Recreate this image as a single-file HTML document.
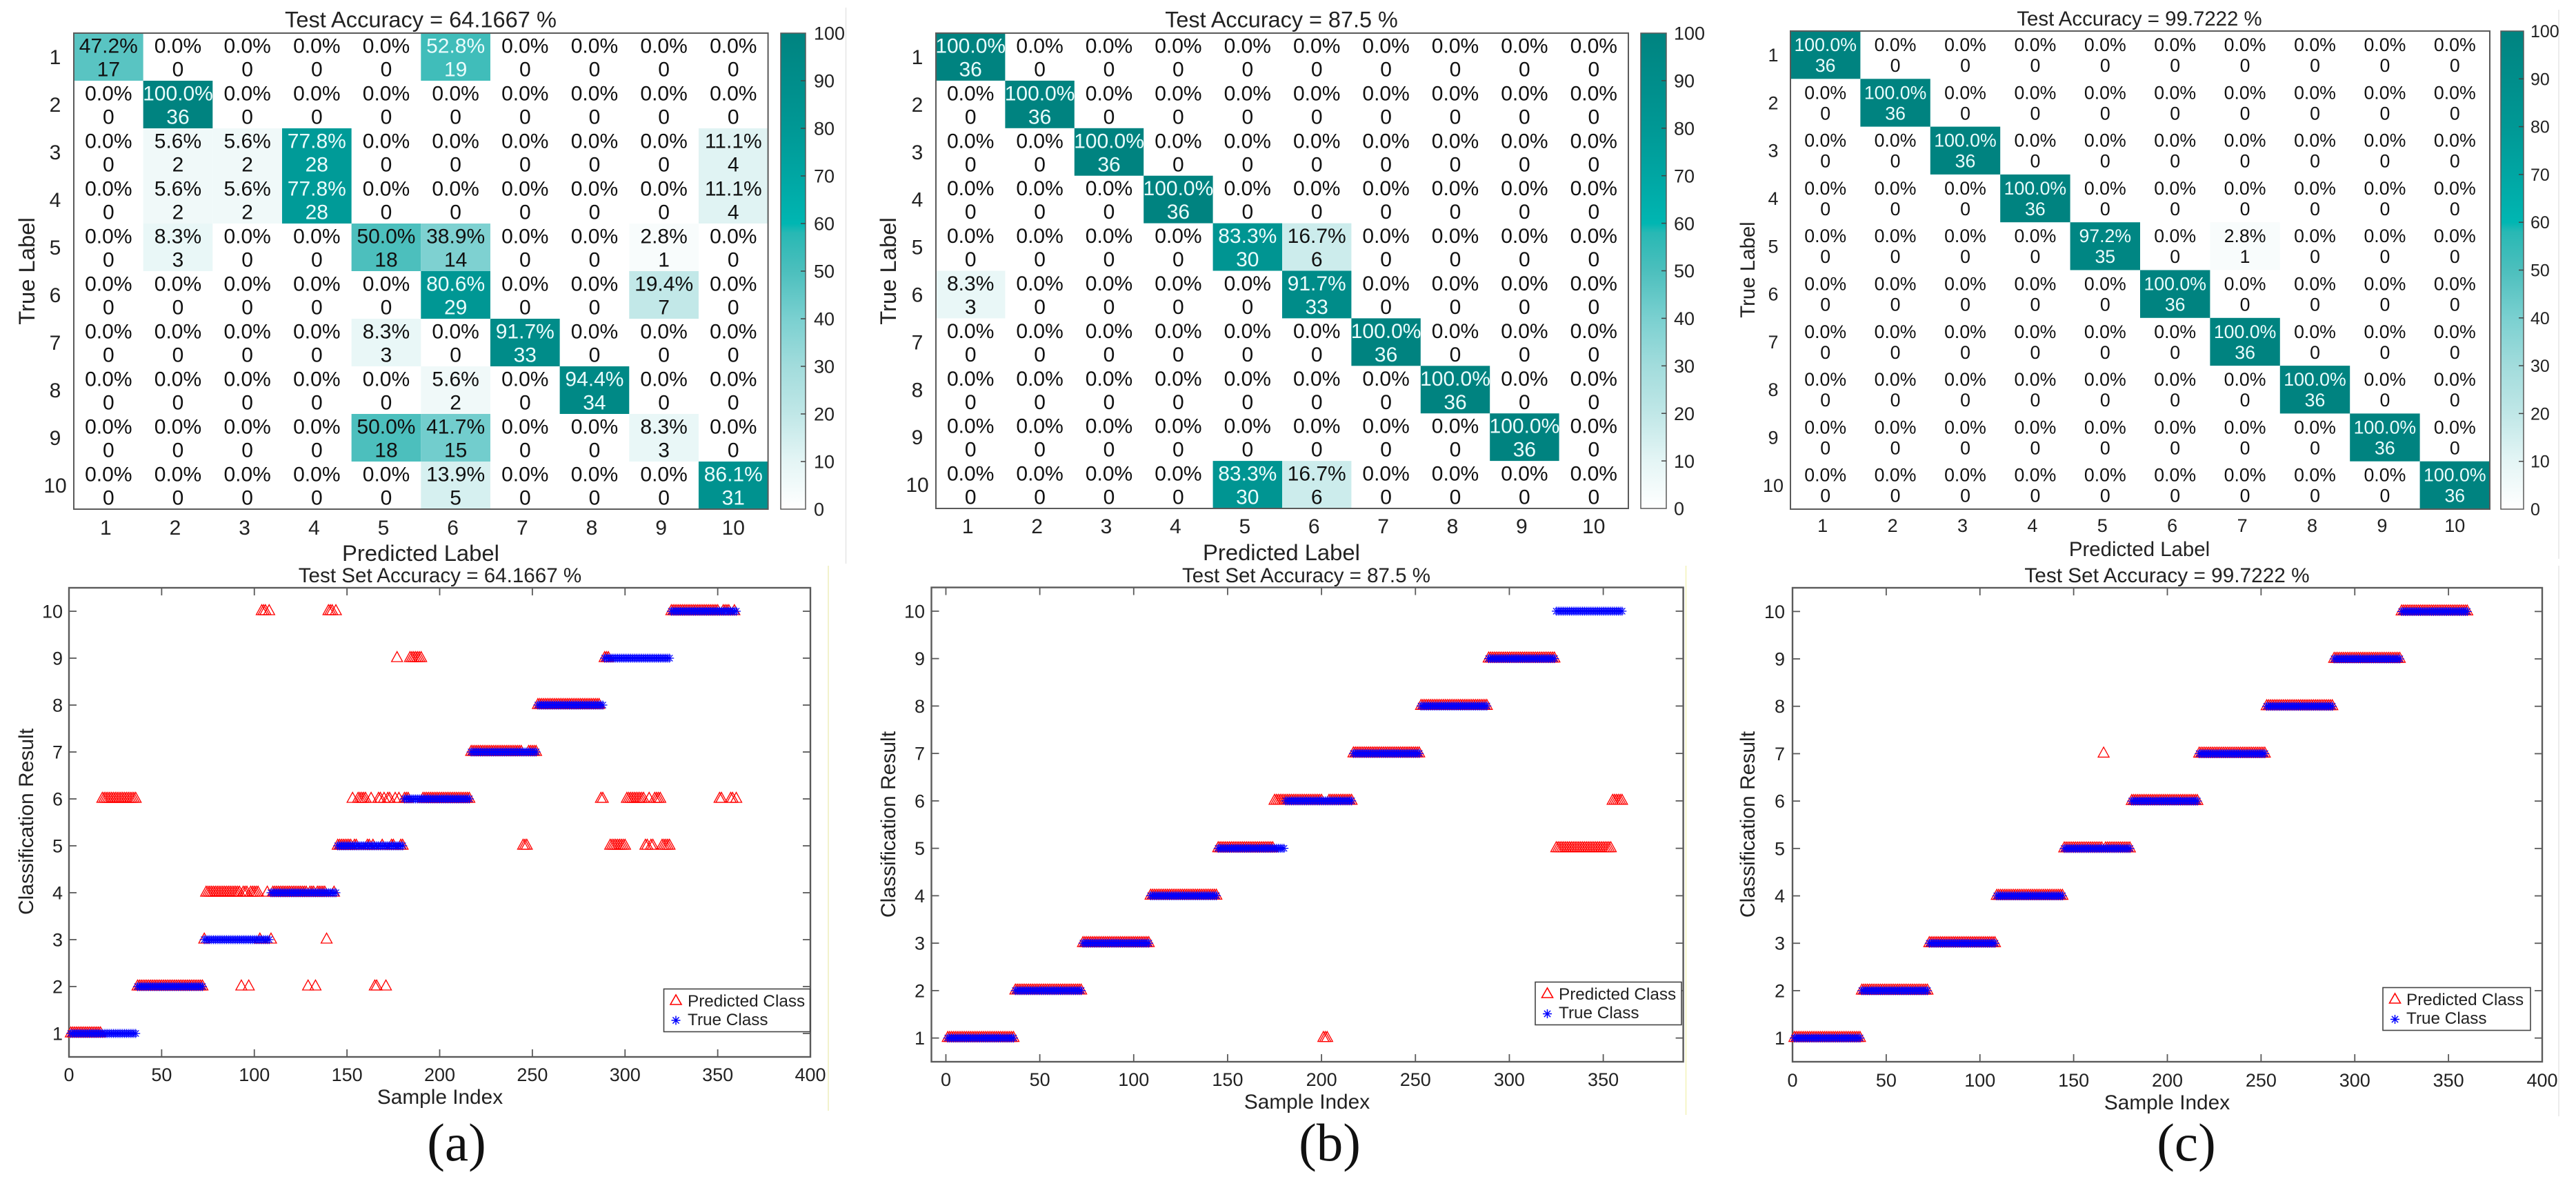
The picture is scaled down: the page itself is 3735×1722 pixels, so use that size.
<!DOCTYPE html>
<html lang="en">
<head>
<meta charset="utf-8">
<title>Confusion matrices and classification results</title>
<style>
html,body{margin:0;padding:0;background:#fff;}
svg{display:block;}
text{font-family:"Liberation Sans",sans-serif;fill:#222;}
.cap{font-family:"Liberation Serif",serif;font-size:77px;fill:#111;text-anchor:middle;}
</style>
</head>
<body>
<svg id="figure" xmlns="http://www.w3.org/2000/svg" width="3735" height="1722" viewBox="0 0 3735 1722">
  <defs>
    <linearGradient id="cbar-gradient" x1="0" y1="1" x2="0" y2="0">
      <stop offset="0" stop-color="rgb(255,255,255)"/>
      <stop offset="0.1" stop-color="rgb(228,245,245)"/>
      <stop offset="0.2" stop-color="rgb(192,231,231)"/>
      <stop offset="0.3" stop-color="rgb(162,220,220)"/>
      <stop offset="0.4" stop-color="rgb(122,208,208)"/>
      <stop offset="0.5" stop-color="rgb(76,191,189)"/>
      <stop offset="0.58" stop-color="rgb(40,184,180)"/>
      <stop offset="0.6" stop-color="rgb(0,182,178)"/>
      <stop offset="0.7" stop-color="rgb(0,166,163)"/>
      <stop offset="0.8" stop-color="rgb(0,152,149)"/>
      <stop offset="1" stop-color="rgb(0,131,128)"/>
    </linearGradient>
  </defs>
  <rect x="0" y="0" width="3735" height="1722" fill="#fff"/>

  <!-- faint sub-image separators -->
  <line x1="1226.5" y1="11" x2="1226.5" y2="817" stroke="#e6e6e6" stroke-width="1.5"/>
  <line x1="1201" y1="820" x2="1201" y2="1610" stroke="#eeeebb" stroke-width="1.5"/>
  <line x1="2444.5" y1="820" x2="2444.5" y2="1616" stroke="#f2f2b8" stroke-width="1.5"/>
  <line x1="3710" y1="14" x2="3710" y2="810" stroke="#e6e6e6" stroke-width="1.5"/>
  <line x1="3710" y1="820" x2="3710" y2="1618" stroke="#e6e6e6" stroke-width="1.5"/>

  <!-- Heatmap panel A -->
  <g id="heat-a"></g>
  <text x="610" y="39.5" font-size="32.6" text-anchor="middle">Test Accuracy = 64.1667 %</text>
  <text x="610" y="813" font-size="32.8" text-anchor="middle">Predicted Label</text>
  <text x="50" y="393" font-size="32.8" text-anchor="middle" transform="rotate(-90 50 393)">True Label</text>

  <!-- Heatmap panel B -->
  <g id="heat-b"></g>
  <text x="1858" y="39.5" font-size="32.4" text-anchor="middle">Test Accuracy = 87.5 %</text>
  <text x="1858" y="812" font-size="32.8" text-anchor="middle">Predicted Label</text>
  <text x="1299" y="393" font-size="32.8" text-anchor="middle" transform="rotate(-90 1299 393)">True Label</text>

  <!-- Heatmap panel C -->
  <g id="heat-c"></g>
  <text x="3102" y="37" font-size="29.4" text-anchor="middle">Test Accuracy = 99.7222 %</text>
  <text x="3102" y="806" font-size="29.4" text-anchor="middle">Predicted Label</text>
  <text x="2544" y="391" font-size="29.4" text-anchor="middle" transform="rotate(-90 2544 391)">True Label</text>

  <!-- Scatter panel A -->
  <g id="scatter-a"></g>
  <text x="638" y="844" font-size="29.6" text-anchor="middle">Test Set Accuracy = 64.1667 %</text>
  <text x="638" y="1600" font-size="29.8" text-anchor="middle">Sample Index</text>
  <text x="48" y="1191" font-size="30" text-anchor="middle" transform="rotate(-90 48 1191)">Classification Result</text>
  <g>
    <rect x="962.5" y="1433.5" width="212" height="62" fill="#fff" stroke="#444" stroke-width="1.6"/>
    <path d="M972 1456 L980 1442 L988 1456 Z" fill="none" stroke="#f00" stroke-width="1.6"/>
    <path d="M980 1472.5V1485.5M973.5 1479H986.5M975.4 1474.4L984.6 1483.6M975.4 1483.6L984.6 1474.4" fill="none" stroke="#00f" stroke-width="1.5"/>
    <text x="997" y="1459" font-size="24.3">Predicted Class</text>
    <text x="997" y="1486" font-size="24.3">True Class</text>
  </g>

  <!-- Scatter panel B -->
  <g id="scatter-b"></g>
  <text x="1894" y="844" font-size="29.5" text-anchor="middle">Test Set Accuracy = 87.5 %</text>
  <text x="1895" y="1607" font-size="29.8" text-anchor="middle">Sample Index</text>
  <text x="1298" y="1195" font-size="30" text-anchor="middle" transform="rotate(-90 1298 1195)">Classification Result</text>
  <g>
    <rect x="2226" y="1423.5" width="212" height="62" fill="#fff" stroke="#444" stroke-width="1.6"/>
    <path d="M2235.5 1446 L2243.5 1432 L2251.5 1446 Z" fill="none" stroke="#f00" stroke-width="1.6"/>
    <path d="M2243.5 1463V1476M2237 1469.5H2250M2238.9 1464.9L2248.1 1474.1M2238.9 1474.1L2248.1 1464.9" fill="none" stroke="#00f" stroke-width="1.5"/>
    <text x="2260" y="1449" font-size="24.3">Predicted Class</text>
    <text x="2260" y="1476" font-size="24.3">True Class</text>
  </g>

  <!-- Scatter panel C -->
  <g id="scatter-c"></g>
  <text x="3142" y="844" font-size="29.8" text-anchor="middle">Test Set Accuracy = 99.7222 %</text>
  <text x="3142" y="1608" font-size="29.8" text-anchor="middle">Sample Index</text>
  <text x="2544" y="1195" font-size="30" text-anchor="middle" transform="rotate(-90 2544 1195)">Classification Result</text>
  <g>
    <rect x="3455" y="1431.5" width="214" height="62" fill="#fff" stroke="#444" stroke-width="1.6"/>
    <path d="M3464.5 1454 L3472.5 1440 L3480.5 1454 Z" fill="none" stroke="#f00" stroke-width="1.6"/>
    <path d="M3472.5 1471V1484M3466 1477.5H3479M3467.9 1472.9L3477.1 1482.1M3467.9 1482.1L3477.1 1472.9" fill="none" stroke="#00f" stroke-width="1.5"/>
    <text x="3489" y="1457" font-size="24.3">Predicted Class</text>
    <text x="3489" y="1484" font-size="24.3">True Class</text>
  </g>

  <text class="cap" x="662" y="1682">(a)</text>
  <text class="cap" x="1928" y="1682">(b)</text>
  <text class="cap" x="3170" y="1682">(c)</text>
</svg>

<script>
// ---------- chart data ----------
var classLabels = [1, 2, 3, 4, 5, 6, 7, 8, 9, 10];
var colorbarTicks = [0, 10, 20, 30, 40, 50, 60, 70, 80, 90, 100];
var scatterYTicks = [1, 2, 3, 4, 5, 6, 7, 8, 9, 10];
var scatterXTicksFull = [0, 50, 100, 150, 200, 250, 300, 350, 400];
var scatterXTicksShort = [0, 50, 100, 150, 200, 250, 300, 350];
var samplesPerClass = 36;

var confusionA = [
  [17, 0, 0, 0, 0, 19, 0, 0, 0, 0],
  [0, 36, 0, 0, 0, 0, 0, 0, 0, 0],
  [0, 2, 2, 28, 0, 0, 0, 0, 0, 4],
  [0, 2, 2, 28, 0, 0, 0, 0, 0, 4],
  [0, 3, 0, 0, 18, 14, 0, 0, 1, 0],
  [0, 0, 0, 0, 0, 29, 0, 0, 7, 0],
  [0, 0, 0, 0, 3, 0, 33, 0, 0, 0],
  [0, 0, 0, 0, 0, 2, 0, 34, 0, 0],
  [0, 0, 0, 0, 18, 15, 0, 0, 3, 0],
  [0, 0, 0, 0, 0, 5, 0, 0, 0, 31]
];
var confusionB = [
  [36, 0, 0, 0, 0, 0, 0, 0, 0, 0],
  [0, 36, 0, 0, 0, 0, 0, 0, 0, 0],
  [0, 0, 36, 0, 0, 0, 0, 0, 0, 0],
  [0, 0, 0, 36, 0, 0, 0, 0, 0, 0],
  [0, 0, 0, 0, 30, 6, 0, 0, 0, 0],
  [3, 0, 0, 0, 0, 33, 0, 0, 0, 0],
  [0, 0, 0, 0, 0, 0, 36, 0, 0, 0],
  [0, 0, 0, 0, 0, 0, 0, 36, 0, 0],
  [0, 0, 0, 0, 0, 0, 0, 0, 36, 0],
  [0, 0, 0, 0, 30, 6, 0, 0, 0, 0]
];
var confusionC = [
  [36, 0, 0, 0, 0, 0, 0, 0, 0, 0],
  [0, 36, 0, 0, 0, 0, 0, 0, 0, 0],
  [0, 0, 36, 0, 0, 0, 0, 0, 0, 0],
  [0, 0, 0, 36, 0, 0, 0, 0, 0, 0],
  [0, 0, 0, 0, 35, 0, 1, 0, 0, 0],
  [0, 0, 0, 0, 0, 36, 0, 0, 0, 0],
  [0, 0, 0, 0, 0, 0, 36, 0, 0, 0],
  [0, 0, 0, 0, 0, 0, 0, 36, 0, 0],
  [0, 0, 0, 0, 0, 0, 0, 0, 36, 0],
  [0, 0, 0, 0, 0, 0, 0, 0, 0, 36]
];

var trueClass = [
  1,1,1,1,1,1,1,1,1,1,1,1,1,1,1,1,1,1,1,1,1,1,1,1,1,1,1,1,1,1,1,1,1,1,1,1,
  2,2,2,2,2,2,2,2,2,2,2,2,2,2,2,2,2,2,2,2,2,2,2,2,2,2,2,2,2,2,2,2,2,2,2,2,
  3,3,3,3,3,3,3,3,3,3,3,3,3,3,3,3,3,3,3,3,3,3,3,3,3,3,3,3,3,3,3,3,3,3,3,3,
  4,4,4,4,4,4,4,4,4,4,4,4,4,4,4,4,4,4,4,4,4,4,4,4,4,4,4,4,4,4,4,4,4,4,4,4,
  5,5,5,5,5,5,5,5,5,5,5,5,5,5,5,5,5,5,5,5,5,5,5,5,5,5,5,5,5,5,5,5,5,5,5,5,
  6,6,6,6,6,6,6,6,6,6,6,6,6,6,6,6,6,6,6,6,6,6,6,6,6,6,6,6,6,6,6,6,6,6,6,6,
  7,7,7,7,7,7,7,7,7,7,7,7,7,7,7,7,7,7,7,7,7,7,7,7,7,7,7,7,7,7,7,7,7,7,7,7,
  8,8,8,8,8,8,8,8,8,8,8,8,8,8,8,8,8,8,8,8,8,8,8,8,8,8,8,8,8,8,8,8,8,8,8,8,
  9,9,9,9,9,9,9,9,9,9,9,9,9,9,9,9,9,9,9,9,9,9,9,9,9,9,9,9,9,9,9,9,9,9,9,9,
  10,10,10,10,10,10,10,10,10,10,10,10,10,10,10,10,10,10,10,10,10,10,10,10,10,10,10,10,10,10,10,10,10,10,10,10
];

var predictedA = [
  1,1,1,1,1,1,1,1,1,1,1,1,1,1,1,1,1,6,6,6,6,6,6,6,6,6,6,6,6,6,6,6,6,6,6,6,
  2,2,2,2,2,2,2,2,2,2,2,2,2,2,2,2,2,2,2,2,2,2,2,2,2,2,2,2,2,2,2,2,2,2,2,2,
  3,4,4,4,4,4,4,4,4,4,4,4,4,4,4,4,4,4,4,4,2,4,4,4,2,4,4,4,4,4,3,10,10,10,4,10,
  3,4,4,4,4,4,4,4,4,4,4,4,4,4,4,4,4,4,4,4,2,4,4,4,2,4,4,4,4,4,3,10,10,10,4,10,
  5,5,5,5,5,5,5,5,6,5,5,6,6,6,6,6,5,5,6,5,2,2,6,6,5,6,2,6,6,5,5,6,9,6,5,5,
  6,6,6,9,9,9,9,9,9,9,6,6,6,6,6,6,6,6,6,6,6,6,6,6,6,6,6,6,6,6,6,6,6,6,6,6,
  7,7,7,7,7,7,7,7,7,7,7,7,7,7,7,7,7,7,7,7,7,7,7,7,7,7,7,7,5,5,5,7,7,7,7,7,
  8,8,8,8,8,8,8,8,8,8,8,8,8,8,8,8,8,8,8,8,8,8,8,8,8,8,8,8,8,8,8,8,8,8,6,6,
  9,9,9,5,5,5,5,5,5,5,5,5,6,6,6,6,6,6,6,6,6,6,5,5,6,5,5,6,6,6,6,5,5,5,5,5,
  10,10,10,10,10,10,10,10,10,10,10,10,10,10,10,10,10,10,10,10,10,10,10,10,10,10,6,6,10,10,10,10,6,6,10,6
];

var predictedB = [
  1,1,1,1,1,1,1,1,1,1,1,1,1,1,1,1,1,1,1,1,1,1,1,1,1,1,1,1,1,1,1,1,1,1,1,1,
  2,2,2,2,2,2,2,2,2,2,2,2,2,2,2,2,2,2,2,2,2,2,2,2,2,2,2,2,2,2,2,2,2,2,2,2,
  3,3,3,3,3,3,3,3,3,3,3,3,3,3,3,3,3,3,3,3,3,3,3,3,3,3,3,3,3,3,3,3,3,3,3,3,
  4,4,4,4,4,4,4,4,4,4,4,4,4,4,4,4,4,4,4,4,4,4,4,4,4,4,4,4,4,4,4,4,4,4,4,4,
  5,5,5,5,5,5,5,5,5,5,5,5,5,5,5,5,5,5,5,5,5,5,5,5,5,5,5,5,5,5,6,6,6,6,6,6,
  6,6,6,6,6,6,6,6,6,6,6,6,6,6,6,6,6,6,6,6,1,1,1,6,6,6,6,6,6,6,6,6,6,6,6,6,
  7,7,7,7,7,7,7,7,7,7,7,7,7,7,7,7,7,7,7,7,7,7,7,7,7,7,7,7,7,7,7,7,7,7,7,7,
  8,8,8,8,8,8,8,8,8,8,8,8,8,8,8,8,8,8,8,8,8,8,8,8,8,8,8,8,8,8,8,8,8,8,8,8,
  9,9,9,9,9,9,9,9,9,9,9,9,9,9,9,9,9,9,9,9,9,9,9,9,9,9,9,9,9,9,9,9,9,9,9,9,
  5,5,5,5,5,5,5,5,5,5,5,5,5,5,5,5,5,5,5,5,5,5,5,5,5,5,5,5,5,5,6,6,6,6,6,6
];

var predictedC = [
  1,1,1,1,1,1,1,1,1,1,1,1,1,1,1,1,1,1,1,1,1,1,1,1,1,1,1,1,1,1,1,1,1,1,1,1,
  2,2,2,2,2,2,2,2,2,2,2,2,2,2,2,2,2,2,2,2,2,2,2,2,2,2,2,2,2,2,2,2,2,2,2,2,
  3,3,3,3,3,3,3,3,3,3,3,3,3,3,3,3,3,3,3,3,3,3,3,3,3,3,3,3,3,3,3,3,3,3,3,3,
  4,4,4,4,4,4,4,4,4,4,4,4,4,4,4,4,4,4,4,4,4,4,4,4,4,4,4,4,4,4,4,4,4,4,4,4,
  5,5,5,5,5,5,5,5,5,5,5,5,5,5,5,5,5,5,5,5,5,7,5,5,5,5,5,5,5,5,5,5,5,5,5,5,
  6,6,6,6,6,6,6,6,6,6,6,6,6,6,6,6,6,6,6,6,6,6,6,6,6,6,6,6,6,6,6,6,6,6,6,6,
  7,7,7,7,7,7,7,7,7,7,7,7,7,7,7,7,7,7,7,7,7,7,7,7,7,7,7,7,7,7,7,7,7,7,7,7,
  8,8,8,8,8,8,8,8,8,8,8,8,8,8,8,8,8,8,8,8,8,8,8,8,8,8,8,8,8,8,8,8,8,8,8,8,
  9,9,9,9,9,9,9,9,9,9,9,9,9,9,9,9,9,9,9,9,9,9,9,9,9,9,9,9,9,9,9,9,9,9,9,9,
  10,10,10,10,10,10,10,10,10,10,10,10,10,10,10,10,10,10,10,10,10,10,10,10,10,10,10,10,10,10,10,10,10,10,10,10
];

// ---------- helpers ----------
var NS = 'http://www.w3.org/2000/svg';
var INK = '#222';
var FRAME = '#5a5a5a';
var cmapPos = [0, 10, 20, 30, 40, 50, 58, 60, 70, 80, 100];
var cmapRGB = [[255,255,255],[228,245,245],[192,231,231],[162,220,220],[122,208,208],[76,191,189],[40,184,180],[0,182,178],[0,166,163],[0,152,149],[0,131,128]];

function colorFor(v) {
  for (var i = 1; i < cmapPos.length; i++) {
    if (v <= cmapPos[i]) {
      var t = (v - cmapPos[i - 1]) / (cmapPos[i] - cmapPos[i - 1]);
      var a = cmapRGB[i - 1], b = cmapRGB[i];
      return 'rgb(' + Math.round(a[0] + (b[0] - a[0]) * t) + ',' + Math.round(a[1] + (b[1] - a[1]) * t) + ',' + Math.round(a[2] + (b[2] - a[2]) * t) + ')';
    }
  }
  return 'rgb(0,131,128)';
}
function make(tag, parent, attrs) {
  var el = document.createElementNS(NS, tag);
  for (var k in attrs) el.setAttribute(k, attrs[k]);
  parent.appendChild(el);
  return el;
}

// ---------- confusion matrix ----------
function drawHeatmap(root, matrix, g) {
  var cw = (g.x1 - g.x0) / classLabels.length;
  var ch = (g.y1 - g.y0) / classLabels.length;
  var c, r, el;
  for (r = 0; r < matrix.length; r++) {
    for (c = 0; c < matrix[r].length; c++) {
      var count = matrix[r][c];
      var pct = count / samplesPerClass * 100;
      if (count > 0) {
        el = make('rect', root, { x: g.x0 + c * cw, y: g.y0 + r * ch, width: cw, height: ch, fill: colorFor(pct) });
        
        
      }
      var tone = pct > 51 ? '#eafcfc' : '#111';
      el = make('text', root, { x: g.x0 + (c + 0.5) * cw, y: g.y0 + r * ch + g.line1, 'font-size': g.fs, 'text-anchor': 'middle', style: 'fill:' + tone });
      el.textContent = pct.toFixed(1) + '%';
      
      
      el = make('text', root, { x: g.x0 + (c + 0.5) * cw, y: g.y0 + r * ch + g.line1 + g.lh, 'font-size': g.fs, 'text-anchor': 'middle', style: 'fill:' + tone });
      el.textContent = String(count);
      
      
    }
  }
  el = make('rect', root, { x: g.x0, y: g.y0, width: g.x1 - g.x0, height: g.y1 - g.y0, fill: 'none', stroke: FRAME, 'stroke-width': 2 });
  
  
  for (c = 0; c < classLabels.length; c++) {
    var off = classLabels[c] < 10 ? -4 : 0;
    el = make('text', root, { x: g.x0 + (c + 0.5) * cw + off, y: g.xBase, 'font-size': g.tickFs, 'text-anchor': 'middle' });
    el.textContent = String(classLabels[c]);
    
    
    el = make('text', root, { x: g.yLabX, y: g.y0 + (c + 0.5) * ch + g.tickFs * 0.35, 'font-size': g.tickFs, 'text-anchor': 'middle' });
    el.textContent = String(classLabels[c]);
    
    
  }
  el = make('rect', root, { x: g.cb0, y: g.y0, width: g.cb1 - g.cb0, height: g.y1 - g.y0, fill: 'url(#cbar-gradient)', stroke: FRAME, 'stroke-width': 1.5 });
  
  
  for (var i = 0; i < colorbarTicks.length; i++) {
    var ty = g.y1 - (colorbarTicks[i] / 100) * (g.y1 - g.y0);
    if (colorbarTicks[i] > 0 && colorbarTicks[i] < 100) {
      el = make('line', root, { x1: g.cb1 - 7, x2: g.cb1, y1: ty, y2: ty, stroke: '#444', 'stroke-width': 1.5 });
      
      
    }
    el = make('text', root, { x: g.cbLab, y: ty + g.cbFs * 0.36, 'font-size': g.cbFs });
    el.textContent = String(colorbarTicks[i]);
    
    
  }
}

// ---------- classification scatter ----------
function drawScatter(root, predicted, truth, xTicks, g) {
  function sx(v) { return g.px0 + (v - g.xMin) / (g.xMax - g.xMin) * (g.px1 - g.px0); }
  function sy(v) { return g.py1 - (v - g.yMin) / (g.yMax - g.yMin) * (g.py1 - g.py0); }
  var el, i, x, y;
  for (i = 0; i < xTicks.length; i++) {
    x = sx(xTicks[i]);
    if (xTicks[i] > g.xMin && xTicks[i] < g.xMax) {
      el = make('line', root, { x1: x, x2: x, y1: g.py1, y2: g.py1 - 11, stroke: FRAME, 'stroke-width': 1.8 });
      
      
      el = make('line', root, { x1: x, x2: x, y1: g.py0, y2: g.py0 + 11, stroke: FRAME, 'stroke-width': 1.8 });
      
      
    }
    el = make('text', root, { x: x, y: g.xBase, 'font-size': g.tickFs, 'text-anchor': 'middle' });
    el.textContent = String(xTicks[i]);
    
    
  }
  for (i = 0; i < scatterYTicks.length; i++) {
    y = sy(scatterYTicks[i]);
    el = make('line', root, { x1: g.px0, x2: g.px0 + 11, y1: y, y2: y, stroke: FRAME, 'stroke-width': 1.8 });
    
    
    el = make('line', root, { x1: g.px1, x2: g.px1 - 11, y1: y, y2: y, stroke: FRAME, 'stroke-width': 1.8 });
    
    
    el = make('text', root, { x: g.yRight, y: y + g.tickFs * 0.35, 'font-size': g.tickFs, 'text-anchor': 'end' });
    el.textContent = String(scatterYTicks[i]);
    
    
  }
  el = make('rect', root, { x: g.px0, y: g.py0, width: g.px1 - g.px0, height: g.py1 - g.py0, fill: 'none', stroke: FRAME, 'stroke-width': 2.4 });
  
  
  for (i = 0; i < predicted.length; i++) {
    x = sx(i + 1);
    y = sy(predicted[i]);
    el = make('path', root, { d: 'M' + (x - 8) + ' ' + (y + 5) + 'L' + x + ' ' + (y - 9.5) + 'L' + (x + 8) + ' ' + (y + 5) + 'Z', fill: 'none', stroke: '#f00', 'stroke-width': 1.3 });
    
    
  }
  var R = 6.5, D = 4.6;
  for (i = 0; i < truth.length; i++) {
    x = sx(i + 1);
    y = sy(truth[i]);
    el = make('path', root, { d: 'M' + x + ' ' + (y - R) + 'V' + (y + R) + 'M' + (x - R) + ' ' + y + 'H' + (x + R) + 'M' + (x - D) + ' ' + (y - D) + 'L' + (x + D) + ' ' + (y + D) + 'M' + (x - D) + ' ' + (y + D) + 'L' + (x + D) + ' ' + (y - D), fill: 'none', stroke: '#00f', 'stroke-width': 1.2 });
    
    
  }
}

drawHeatmap(document.getElementById('heat-a'), confusionA, { x0: 107, x1: 1113.6, y0: 48, y1: 738, fs: 30, lh: 34, line1: 28.5, tickFs: 30, cbFs: 27, cb0: 1132, cb1: 1168, cbLab: 1180, yLabX: 80, xBase: 775 });
drawHeatmap(document.getElementById('heat-b'), confusionB, { x0: 1357, x1: 2361, y0: 48, y1: 737, fs: 30, lh: 34, line1: 28.5, tickFs: 30, cbFs: 27, cb0: 2379, cb1: 2416, cbLab: 2427, yLabX: 1330, xBase: 773 });
drawHeatmap(document.getElementById('heat-c'), confusionC, { x0: 2596, x1: 3610, y0: 45, y1: 738, fs: 26.7, lh: 30, line1: 29, tickFs: 27, cbFs: 25, cb0: 3626, cb1: 3659, cbLab: 3669, yLabX: 2571, xBase: 771 });

drawScatter(document.getElementById('scatter-a'), predictedA, trueClass, scatterXTicksFull, { px0: 100, px1: 1175, py0: 852, py1: 1532, xMin: 0, xMax: 400, yMin: 0.5, yMax: 10.5, tickFs: 27, yRight: 91, xBase: 1567 });
drawScatter(document.getElementById('scatter-b'), predictedB, trueClass, scatterXTicksShort, { px0: 1350.5, px1: 2440.6, py0: 851.5, py1: 1539, xMin: -7.7, xMax: 392.6, yMin: 0.5, yMax: 10.5, tickFs: 27, yRight: 1341, xBase: 1574 });
drawScatter(document.getElementById('scatter-c'), predictedC, trueClass, scatterXTicksFull, { px0: 2599, px1: 3686, py0: 852, py1: 1539, xMin: 0, xMax: 400, yMin: 0.5, yMax: 10.5, tickFs: 27, yRight: 2588, xBase: 1575 });
</script>
</body>
</html>
